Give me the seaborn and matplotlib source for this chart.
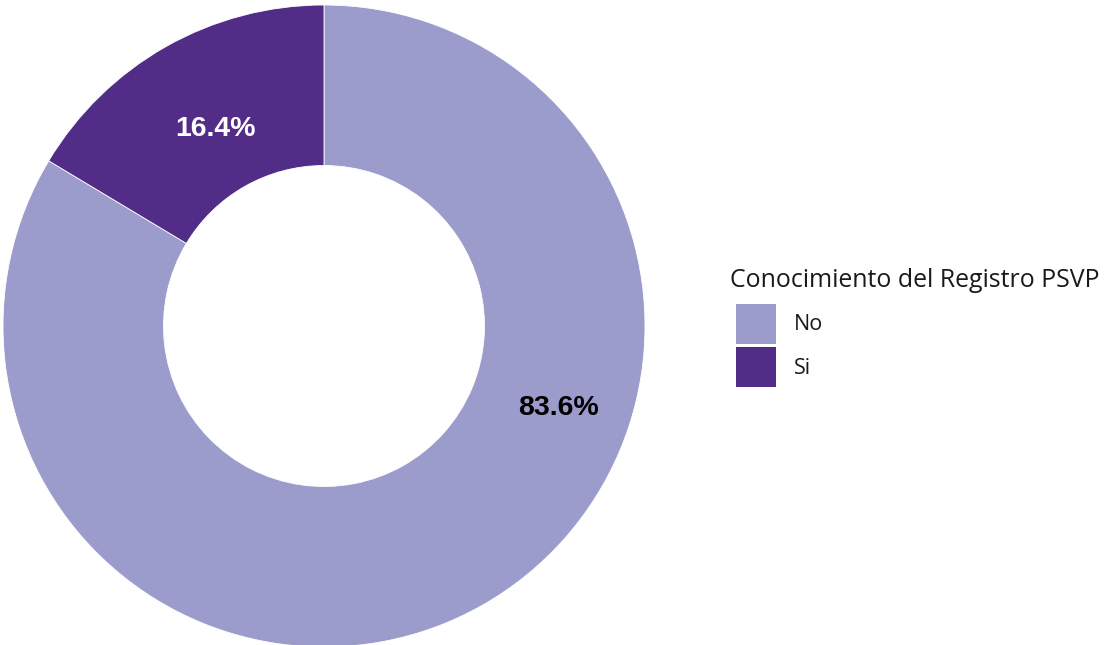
import matplotlib
matplotlib.use("Agg")
import matplotlib.pyplot as plt
import seaborn as sns
import numpy as np
from matplotlib.patches import Patch

categories = ["No", "Si"]
values = [83.6, 16.4]
colors_hex = ["#9B9BCC", "#512D88"]
legend_title = "Conocimiento del Registro PSVP"

sns.set_theme(style="white")
plt.rcParams['font.family'] = ['Open Sans', 'DejaVu Sans']
palette = sns.color_palette(colors_hex)

fig = plt.figure(figsize=(11.04, 6.45), dpi=100)
W, H = 1104, 645
cx, cy, R = 324, 326, 321
ax = fig.add_axes([(cx - R) / W, (H - cy - R) / H, 2 * R / W, 2 * R / H])

wedges, _ = ax.pie(values, colors=palette, startangle=90, counterclock=False,
                   radius=1.0, wedgeprops=dict(width=0.5, edgecolor="white", linewidth=0.6))
ax.set_xlim(-1, 1)
ax.set_ylim(-1, 1)
ax.set_aspect("equal")
ax.axis("off")

# label positions (radius, angle in degrees)
label_pos = [(0.775, -19.2), (0.70, 118.9)]
label_colors = ["black", "white"]
for v, (r, a), c in zip(values, label_pos, label_colors):
    ax.text(r * np.cos(np.radians(a)), r * np.sin(np.radians(a)), f"{v:.1f}%",
            ha="center", va="center", fontsize=20.5, fontweight="bold",
            color=c, family=["Liberation Sans", "DejaVu Sans"])

# legend title
fig.text(730 / W, 1 - 287 / H, legend_title, ha="left", va="baseline",
         fontsize=17.9, color="#1a1a1a")

handles = [Patch(facecolor=palette[i], edgecolor="none", label=categories[i]) for i in range(len(categories))]
leg = fig.legend(handles=handles, loc="upper left",
                 bbox_to_anchor=(736 / W, 1 - 304 / H), frameon=False,
                 fontsize=15.5, handlelength=1.84, handleheight=2.45,
                 labelspacing=0.18, handletextpad=0.85, borderpad=0, borderaxespad=0)
for t in leg.get_texts():
    t.set_color("#1a1a1a")

fig.savefig("out.png", dpi=100)
